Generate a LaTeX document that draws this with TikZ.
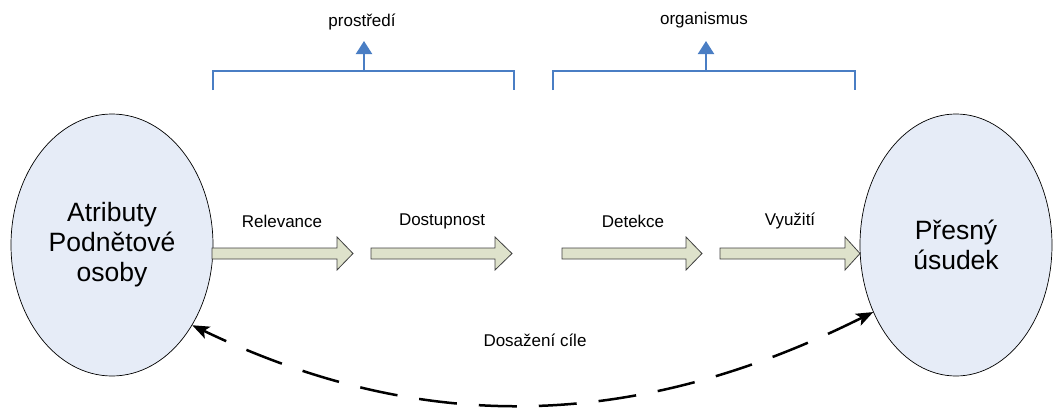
\documentclass[tikz,border=0pt]{standalone}
\usepackage{fontspec}
\setmainfont{Liberation Sans}
\usetikzlibrary{arrows.meta,shapes.geometric}
\definecolor{ellfill}{HTML}{E6ECF7}
\definecolor{arrfill}{HTML}{DEE2CB}
\definecolor{arrdraw}{HTML}{404040}
\definecolor{bracketblue}{HTML}{4A7EC4}
\tikzset{
  bigell/.style={ellipse, draw=black, line width=0.7pt, fill=ellfill, inner sep=0pt,
    align=center, font=\fontsize{26.5}{30}\selectfont},
  lbl/.style={font=\fontsize{17}{20}\selectfont, inner sep=0pt},
  blockarrow/.style={draw=arrdraw, fill=arrfill, line width=0.8pt, line join=miter},
  bracketline/.style={draw=bracketblue, line width=2pt},
  bracketarrow/.style={draw=bracketblue, line width=2pt, -{Triangle[length=13pt,width=16pt]}},
  dasharrow/.style={draw=black, line width=2.5pt, dash pattern=on 38pt off 22pt,
    {Stealth[length=17pt,width=13pt,inset=4pt]}-{Stealth[length=17pt,width=13pt,inset=4pt]}}
}
\begin{document}
\begin{tikzpicture}[x=1pt,y=-1pt]
\useasboundingbox (0,0) rectangle (1061,410);
% ellipses
\node[bigell, minimum width=202pt, minimum height=262pt] (left) at (112,245) {Atributy\\Podnětové\\osoby};
\node[bigell, minimum width=192pt, minimum height=262pt] (right) at (956,245) {Přesný\\úsudek};
% block arrows
\newcommand{\blockarr}[3]{%
  \draw[blockarrow] (#1,248) -- (#2,248) -- (#2,237) -- (#3,253.5) -- (#2,270) -- (#2,259) -- (#1,259) -- cycle;}
\blockarr{212}{337}{353}
\blockarr{371}{495}{512}
\blockarr{562}{686}{702}
\blockarr{720}{845}{860}
% labels over arrows
\node[lbl] (relevance) at (282,221) {Relevance};
\node[lbl] (dostupnost) at (442,221) {Dostupnost};
\node[lbl] (detekce) at (633,221) {Detekce};
\node[lbl] (vyuziti) at (790,221) {Využití};
% brackets
\draw[bracketline] (213,90) -- (213,71) -- (514,71) -- (514,90);
\draw[bracketline] (553,90) -- (553,71) -- (855,71) -- (855,90);
\coordinate (b1) at (364,71);
\coordinate (b2) at (706,71);
\node[lbl] (prostredi) at (362,22) {prostředí};
\node[lbl] (organismus) at (704,20) {organismus};
\draw[bracketarrow] (b1) -- (364,41);
\draw[bracketarrow] (b2) -- (706,41);
% dashed feedback
\node[lbl] (dosazeni) at (535,340) {Dosažení cíle};
\draw[dasharrow] (right.-141) .. controls (635,431) and (423,436) .. (left.-45);
\end{tikzpicture}
\end{document}
